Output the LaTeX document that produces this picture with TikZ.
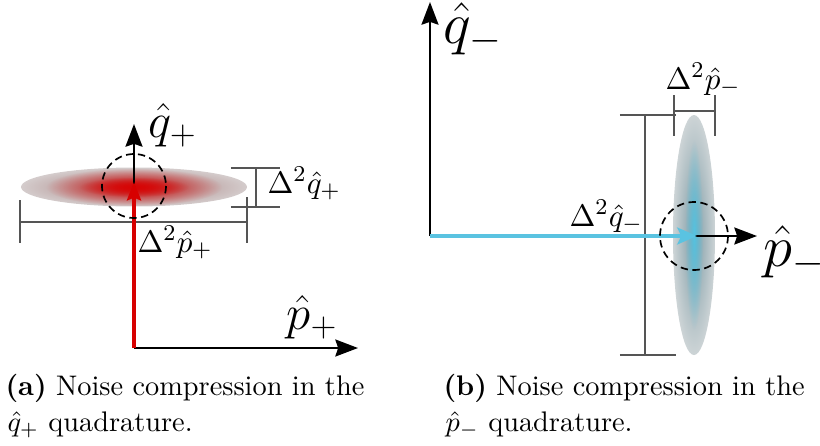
\documentclass[tikz,border=0pt]{standalone}
\usetikzlibrary{arrows.meta,fadings}
\definecolor{ared}{RGB}{215,0,0}
\definecolor{acyan}{RGB}{90,195,225}
\definecolor{dimgray}{RGB}{85,85,85}
\definecolor{abase0}{RGB}{160,115,115}
\definecolor{abase1}{RGB}{212,204,204}
\definecolor{aglow}{RGB}{215,5,5}
\definecolor{bbase0}{RGB}{125,155,165}
\definecolor{bbase1}{RGB}{205,212,214}
\definecolor{bglow}{RGB}{85,195,225}
\tikzfading[name=glowfade, inner color=transparent!0, outer color=transparent!100]
\tikzset{
  axis/.style={line width=0.75pt,-{Stealth[length=8pt,width=6pt,inset=1pt]}},
  redarr/.style={ared,line width=1.1pt,-{Stealth[length=6.5pt,width=5pt,inset=1pt]}},
  cyanarr/.style={acyan,line width=1.1pt,-{Stealth[length=7pt,width=6pt,inset=1.5pt]}},
  dimline/.style={dimgray,line width=0.4pt},
  dashcirc/.style={black,line width=0.6pt,dash pattern=on 2.6pt off 1.6pt},
  lbl/.style={inner sep=0pt,anchor=base west},
  dlbl/.style={inner sep=0pt,anchor=base west,font=\fontsize{11}{13}\selectfont},
}
\begin{document}
\begin{tikzpicture}[x=0.353pt,y=-0.353pt]
\useasboundingbox (0,0) rectangle (820,445);
% ---------- panel (a) ----------
\coordinate (Ao) at (134,348);
\coordinate (Aq) at (134,124);
\coordinate (Ap) at (358,348);
\coordinate (Ar) at (134,182);
\coordinate (Ac) at (134,187);
\shade[inner color=abase0, outer color=abase1] (Ac) ellipse [x radius=113, y radius=19.5];
\fill[aglow, path fading=glowfade] (Ac) ellipse [x radius=88, y radius=19];
\fill[aglow, path fading=glowfade] (Ac) ellipse [x radius=55, y radius=10];
\draw[dimline] (20,222) -- (247,222);
\draw[dimline] (20,200) -- (20,243);
\draw[dimline] (247,197) -- (247,243);
\draw[dimline] (231,168) -- (280,168);
\draw[dimline] (231,207) -- (280,207);
\draw[dimline] (256,168) -- (256,207);
\draw[axis] (Ao) -- (Aq);
\draw[axis] (Ao) -- (Ap);
\draw[redarr] (Ao) -- (Ar);
\draw[dashcirc] (134,186) circle [radius=32];
\node[lbl] (qplus) at (148,137) {\LARGE$\hat{q}_+$};
\node[lbl] (pplus) at (286,329) {\LARGE$\hat{p}_+$};
\node[dlbl] (dqplus) at (267,193) {$\Delta^2\hat{q}_+$};
\node[dlbl] (dpplus) at (137,252) {$\Delta^2\hat{p}_+$};
% ---------- panel (b) ----------
\coordinate (Bo) at (430,236);
\coordinate (Bq) at (430,2);
\coordinate (Bp) at (757,236);
\coordinate (Br) at (697,236);
\coordinate (Bc) at (694,235);
\shade[inner color=bbase0, outer color=bbase1] (Bc) ellipse [x radius=21, y radius=120];
\fill[bglow, path fading=glowfade] (Bc) ellipse [x radius=9, y radius=95];
\draw[dimline] (620,115) -- (676,115);
\draw[dimline] (620,355) -- (676,355);
\draw[dimline] (645,115) -- (645,355);
\draw[dimline] (674,111) -- (715,111);
\draw[dimline] (674,95) -- (674,136);
\draw[dimline] (715,95) -- (715,136);
\draw[axis] (Bo) -- (Bq);
\draw[axis] (Bo) -- (Bp);
\draw[cyanarr] (Bo) -- (Br);
\draw[dashcirc] (694,236) circle [radius=34];
\node[lbl] (qminus) at (443,43) {\huge$\hat{q}_-$};
\node[lbl] (pminus) at (763,266) {\huge$\hat{p}_-$};
\node[dlbl] (dqminus) at (569,226) {$\Delta^2\hat{q}_-$};
\node[dlbl] (dpminus) at (665,89) {$\Delta^2\hat{p}_-$};
% ---------- captions ----------
\node[lbl] (capa1) at (5,395) {\textbf{(a)} Noise compression in the};
\node[lbl] (capa2) at (7,431) {$\hat{q}_+$ quadrature.};
\node[lbl] (capb1) at (443,395) {\textbf{(b)} Noise compression in the};
\node[lbl] (capb2) at (445,431) {$\hat{p}_-$ quadrature.};
\end{tikzpicture}
\end{document}
